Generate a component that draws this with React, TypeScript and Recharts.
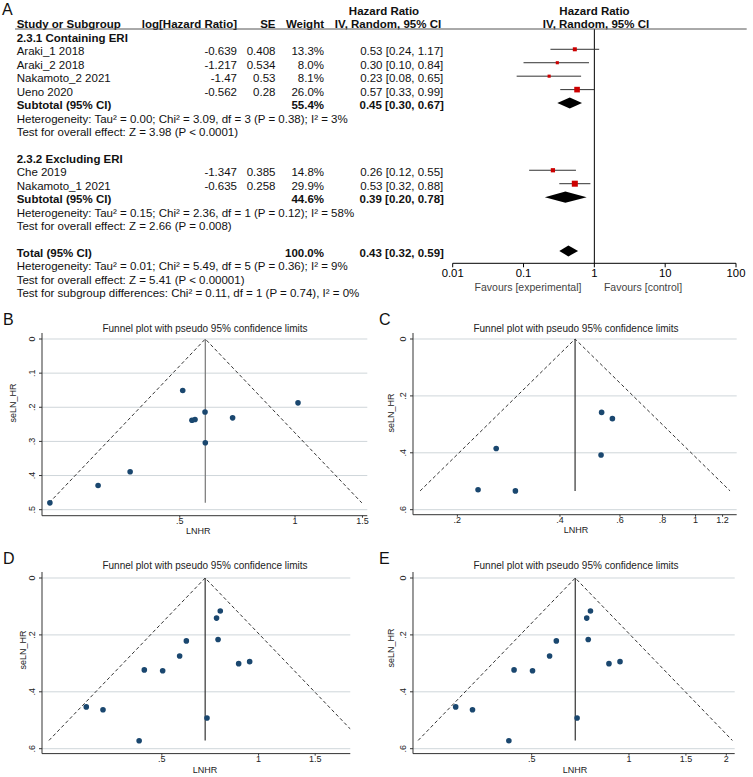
import React from 'react';
import { ScatterChart, Scatter, XAxis, YAxis, ReferenceLine, ReferenceArea } from 'recharts';

const FONT = '"Liberation Sans", Arial, Helvetica, sans-serif';

// ---------- Panel A: forest plot data ----------
const studyNames = ['Araki_1 2018', 'Araki_2 2018', 'Nakamoto_2 2021', 'Ueno 2020', 'Che 2019', 'Nakamoto_1 2021'];
const studyLogHR = [-0.639, -1.217, -1.47, -0.562, -1.347, -0.635];
const studySE = [0.408, 0.534, 0.53, 0.28, 0.385, 0.258];
const studyWeight = [13.3, 8.0, 8.1, 26.0, 14.8, 29.9];
const studyHR = [0.53, 0.30, 0.23, 0.57, 0.26, 0.53];
const studyLo = [0.24, 0.10, 0.08, 0.33, 0.12, 0.32];
const studyHi = [1.17, 0.84, 0.65, 0.99, 0.55, 0.88];
const studyRow = [1, 2, 3, 4, 10, 11];

const pooledNames = ['Subtotal (95% CI)', 'Subtotal (95% CI)', 'Total (95% CI)'];
const pooledWeight = [55.4, 44.6, 100.0];
const pooledHR = [0.45, 0.39, 0.43];
const pooledLo = [0.30, 0.20, 0.32];
const pooledHi = [0.67, 0.78, 0.59];
const pooledRow = [5, 12, 16];

const groupNames = ['2.3.1 Containing ERI', '2.3.2 Excluding ERI'];
const groupRow = [0, 9];

const noteTexts = [
  'Heterogeneity: Tau\u00b2 = 0.00; Chi\u00b2 = 3.09, df = 3 (P = 0.38); I\u00b2 = 3%',
  'Test for overall effect: Z = 3.98 (P < 0.0001)',
  'Heterogeneity: Tau\u00b2 = 0.15; Chi\u00b2 = 2.36, df = 1 (P = 0.12); I\u00b2 = 58%',
  'Test for overall effect: Z = 2.66 (P = 0.008)',
  'Heterogeneity: Tau\u00b2 = 0.01; Chi\u00b2 = 5.49, df = 5 (P = 0.36); I\u00b2 = 9%',
  'Test for overall effect: Z = 5.41 (P < 0.00001)',
  'Test for subgroup differences: Chi\u00b2 = 0.11, df = 1 (P = 0.74), I\u00b2 = 0%',
];
const noteRow = [6, 7, 13, 14, 17, 18, 19];

const forestTicks = [0.01, 0.1, 1, 10, 100];

// ---------- Funnel B ----------
const bHR = [0.509, 1.018, 0.582, 0.538, 0.548, 0.687, 0.583, 0.371, 0.306, 0.229];
const bSE = [0.151, 0.187, 0.214, 0.238, 0.236, 0.231, 0.304, 0.389, 0.429, 0.480];
const bFunnelHR = [0.228, 0.583, 1.494];
const bFunnelSE = [0.48, 0, 0.48];
const bXTicks = [0.5, 1, 1.5];
const bYTicks = [0, 0.1, 0.2, 0.3, 0.4, 0.5];

// ---------- Funnel C ----------
const cHR = [0.530, 0.570, 0.528, 0.260, 0.230, 0.296];
const cSE = [0.258, 0.28, 0.408, 0.385, 0.53, 0.534];
const cFunnelHR = [0.1555, 0.443, 1.262];
const cFunnelSE = [0.534, 0, 0.534];
const cXTicks = [0.2, 0.4, 0.6, 0.8, 1, 1.2];
const cYTicks = [0, 0.2, 0.4, 0.6];

// ---------- Funnels D and E ----------
const deHR = [0.760, 0.740, 0.748, 0.596, 0.568, 0.867, 0.938, 0.441, 0.503, 0.291, 0.328, 0.691, 0.425];
const deSE = [0.116, 0.141, 0.216, 0.221, 0.274, 0.301, 0.294, 0.323, 0.326, 0.453, 0.463, 0.492, 0.572];
const deFunnelHR = [0.2227, 0.682, 2.088];
const deFunnelSE = [0.571, 0, 0.571];
const dXTicks = [0.5, 1, 1.5];
const eXTicks = [0.5, 1, 1.5, 2];
const deYTicks = [0, 0.2, 0.4, 0.6];

// ---------- helpers ----------
const stataFmt = (v: number) => (v === 0 ? '0' : String(v).replace(/^0\./, '.'));
const Empty = () => <g />;

const ROW0 = 35.86;
const PITCH = 13.44;
const rowBase = (L: number) => ROW0 + PITCH * L + 6;

const RotTick = (props: any) => {
  const { x, y, payload } = props;
  const cx = x - 5;
  return (
    <text x={cx} y={y} transform={`rotate(-90 ${cx} ${y})`} textAnchor="middle" dominantBaseline="central"
      fontSize={9} fill="#222" fontFamily={FONT}>
      {stataFmt(payload.value)}
    </text>
  );
};

const Dot = (p: any) => <circle cx={p.cx} cy={p.cy} r={2.8} fill="#1a476f" />;

const Square = (p: any) => {
  const s = 1.1 * Math.sqrt(p.payload.w);
  return <rect x={p.cx - s / 2} y={p.cy - s / 2} width={s} height={s} fill="#cc0000" />;
};

function Forest() {
  const left = 440, top = 0, width = 313, height = 300;
  const ml = 452.7 - left;
  const mr = 753 - 736;
  const mt = 29;
  const xh = 30;
  const mb = height - 263.3 - xh;
  const pts = studyHR.map((hr, i) => ({ x: hr, y: studyRow[i], w: studyWeight[i] }));
  return (
    <div style={{ position: 'absolute', left, top, width, height }}>
      <ScatterChart width={width} height={height} margin={{ top: mt, right: mr, bottom: mb, left: ml }}>
        <XAxis type="number" dataKey="x" scale="log" domain={[0.01, 100]} ticks={forestTicks} allowDataOverflow
          interval={0} tickFormatter={(v: number) => String(v)} height={xh} tickSize={4} stroke="#000"
          tick={{ fontSize: 11.3, fill: '#000', fontFamily: FONT }} />
        <YAxis type="number" dataKey="y" hide domain={[-0.51, 16.923]} reversed allowDataOverflow />
        <ReferenceLine x={1} stroke="#000" strokeWidth={1} />
        {studyHR.map((hr, i) => (
          <Scatter key={'ci' + i} data={[{ x: studyLo[i], y: studyRow[i] }, { x: studyHi[i], y: studyRow[i] }]}
            line={{ stroke: '#333', strokeWidth: 1 }} shape={Empty} isAnimationActive={false} />
        ))}
        <Scatter data={pts} shape={Square} isAnimationActive={false} />
        {pooledHR.map((hr, i) => {
          const lo = pooledLo[i], hi = pooledHi[i];
          const f = (Math.log(hr) - Math.log(lo)) / (Math.log(hi) - Math.log(lo));
          return (
            <ReferenceArea key={'d' + i} x1={lo} x2={hi} y1={pooledRow[i] - 0.41} y2={pooledRow[i] + 0.41}
              ifOverflow="visible"
              shape={(p: any) => {
                const { x, y, width: w, height: h } = p;
                const px = x + w * f;
                return <polygon points={`${x},${y + h / 2} ${px},${y} ${x + w},${y + h / 2} ${px},${y + h}`} fill="#000" />;
              }} />
          );
        })}
      </ScatterChart>
    </div>
  );
}

type FunnelProps = {
  plot: { l: number; r: number; t: number; b: number };
  xDomain: [number, number];
  yDomain: [number, number];
  xTicks: number[];
  yTicks: number[];
  xs: number[];
  ses: number[];
  fx: number[];
  fse: number[];
  midStroke: string;
};

function Funnel({ plot, xDomain, yDomain, xTicks, yTicks, xs, ses, fx, fse, midStroke }: FunnelProps) {
  const yw = 30, xh = 24, ml = 4, mr = 16, mt = 4, mb = 4;
  const left = plot.l - yw - ml;
  const top = plot.t - mt;
  const width = plot.r - plot.l + yw + ml + mr;
  const height = plot.b - plot.t + xh + mt + mb;
  const pts = xs.map((x, i) => ({ x, y: ses[i] }));
  const funnel = fx.map((x, i) => ({ x, y: fse[i] }));
  const mid = [{ x: fx[1], y: fse[1] }, { x: fx[1], y: fse[0] }];
  return (
    <div style={{ position: 'absolute', left, top, width, height }}>
      <ScatterChart width={width} height={height} margin={{ top: mt, right: mr, bottom: mb, left: ml }}>
        <XAxis type="number" dataKey="x" scale="log" domain={xDomain} allowDataOverflow ticks={xTicks} interval={0}
          tickFormatter={stataFmt} height={xh} tickSize={2} tickMargin={0} stroke="#333"
          tick={{ fontSize: 9, fill: '#222', fontFamily: FONT }} />
        <YAxis type="number" dataKey="y" domain={yDomain} reversed allowDataOverflow ticks={yTicks} interval={0}
          width={yw} tickSize={3} stroke="#333" tick={<RotTick />} />
        {yTicks.map((v) => (
          <ReferenceLine key={'grid' + v} y={v} stroke="#cfd6da" strokeWidth={1} ifOverflow="visible" />
        ))}
        <Scatter data={funnel} line={{ stroke: '#333', strokeWidth: 1, strokeDasharray: '3.5 2.5' }} shape={Empty}
          isAnimationActive={false} />
        <Scatter data={mid} line={{ stroke: midStroke, strokeWidth: 1.2 }} shape={Empty} isAnimationActive={false} />
        <Scatter data={pts} shape={Dot} isAnimationActive={false} />
      </ScatterChart>
    </div>
  );
}

function Overlay() {
  const t = (x: number, y: number, s: string, opts: any = {}) => (
    <text x={x} y={y} fontSize={11.5} fill="#111" {...opts}>{s}</text>
  );
  const bold = { fontWeight: 700 };
  const ciText = (hr: number, lo: number, hi: number) => `${hr.toFixed(2)} [${lo.toFixed(2)}, ${hi.toFixed(2)}]`;
  const rot = (x: number, y: number, s: string) => (
    <text x={x} y={y} transform={`rotate(-90 ${x} ${y})`} textAnchor="middle" dominantBaseline="central" fontSize={9} fill="#222">{s}</text>
  );
  const title = 'Funnel plot with pseudo 95% confidence limits';
  return (
    <svg width={753} height={777} style={{ position: 'absolute', left: 0, top: 0, pointerEvents: 'none' }} fontFamily={FONT}>
      {/* Panel A */}
      <text x={2} y={15} fontSize={16} fill="#111">A</text>
      {t(384, 15.3, 'Hazard Ratio', { ...bold, textAnchor: 'middle' })}
      {t(594.5, 15.3, 'Hazard Ratio', { ...bold, textAnchor: 'middle' })}
      {t(16.7, 27.8, 'Study or Subgroup', bold)}
      {t(237, 27.8, 'log[Hazard Ratio]', { ...bold, textAnchor: 'end' })}
      {t(275.5, 27.8, 'SE', { ...bold, textAnchor: 'end' })}
      {t(324, 27.8, 'Weight', { ...bold, textAnchor: 'end' })}
      {t(388, 27.8, 'IV, Random, 95% CI', { ...bold, textAnchor: 'middle' })}
      {t(596, 27.8, 'IV, Random, 95% CI', { ...bold, textAnchor: 'middle' })}
      <line x1={15} x2={746.7} y1={29} y2={29} stroke="#555" strokeWidth={1} />
      {groupNames.map((g, i) => <React.Fragment key={'g' + i}>{t(16.7, rowBase(groupRow[i]), g, bold)}</React.Fragment>)}
      {studyNames.map((n, i) => (
        <React.Fragment key={'s' + i}>
          {t(16.7, rowBase(studyRow[i]), n)}
          {t(237, rowBase(studyRow[i]), String(studyLogHR[i]), { textAnchor: 'end' })}
          {t(275.5, rowBase(studyRow[i]), String(studySE[i]), { textAnchor: 'end' })}
          {t(324, rowBase(studyRow[i]), studyWeight[i].toFixed(1) + '%', { textAnchor: 'end' })}
          {t(401.7, rowBase(studyRow[i]), ciText(studyHR[i], studyLo[i], studyHi[i]), { textAnchor: 'middle' })}
        </React.Fragment>
      ))}
      {pooledNames.map((n, i) => (
        <React.Fragment key={'p' + i}>
          {t(16.7, rowBase(pooledRow[i]), n, bold)}
          {t(324, rowBase(pooledRow[i]), pooledWeight[i].toFixed(1) + '%', { ...bold, textAnchor: 'end' })}
          {t(401.7, rowBase(pooledRow[i]), ciText(pooledHR[i], pooledLo[i], pooledHi[i]), { ...bold, textAnchor: 'middle' })}
        </React.Fragment>
      ))}
      {noteTexts.map((n, i) => <React.Fragment key={'n' + i}>{t(16.7, rowBase(noteRow[i]), n)}</React.Fragment>)}
      <text x={528} y={290.5} fontSize={10.5} fill="#444" textAnchor="middle">Favours [experimental]</text>
      <text x={643} y={290.5} fontSize={10.5} fill="#444" textAnchor="middle">Favours [control]</text>

      {/* Panel letters */}
      <text x={3} y={325} fontSize={16} fill="#111">B</text>
      <text x={379} y={325} fontSize={16} fill="#111">C</text>
      <text x={3} y={563.5} fontSize={16} fill="#111">D</text>
      <text x={379} y={563.5} fontSize={16} fill="#111">E</text>

      {/* Funnel titles */}
      <text x={205} y={332} fontSize={10} fill="#222" textAnchor="middle">{title}</text>
      <text x={576} y={332} fontSize={10} fill="#222" textAnchor="middle">{title}</text>
      <text x={205} y={568.6} fontSize={10} fill="#222" textAnchor="middle">{title}</text>
      <text x={576} y={568.6} fontSize={10} fill="#222" textAnchor="middle">{title}</text>

      {/* Axis titles */}
      <text x={198.3} y={534.2} fontSize={9} fill="#222" textAnchor="middle">LNHR</text>
      <text x={576} y={533.2} fontSize={9} fill="#222" textAnchor="middle">LNHR</text>
      <text x={205} y={773.2} fontSize={9} fill="#222" textAnchor="middle">LNHR</text>
      <text x={575} y={773.2} fontSize={9} fill="#222" textAnchor="middle">LNHR</text>
      {rot(12.7, 403, 'seLN_HR')}
      {rot(391, 413, 'seLN_HR')}
      {rot(23.3, 650, 'seLN_HR')}
      {rot(391, 648, 'seLN_HR')}
    </svg>
  );
}

export default function App() {
  return (
    <div style={{ position: 'absolute', left: 0, top: 0, width: 753, height: 777, background: '#fff', fontFamily: FONT, overflow: 'hidden' }}>
      <Forest />
      <Funnel plot={{ l: 41.7, r: 367, t: 333.3, b: 516 }} xDomain={[0.2184, 1.544]} yDomain={[-0.0176, 0.5176]}
        xTicks={bXTicks} yTicks={bYTicks} xs={bHR} ses={bSE} fx={bFunnelHR} fse={bFunnelSE} midStroke="#777" />
      <Funnel plot={{ l: 413.3, r: 737, t: 333.3, b: 515 }} xDomain={[0.1482, 1.32]} yDomain={[-0.0211, 0.6176]}
        xTicks={cXTicks} yTicks={cYTicks} xs={cHR} ses={cSE} fx={cFunnelHR} fse={cFunnelSE} midStroke="#333" />
      <Funnel plot={{ l: 41.7, r: 350, t: 571.7, b: 753.3 }} xDomain={[0.2119, 1.929]} yDomain={[-0.0211, 0.6172]}
        xTicks={dXTicks} yTicks={deYTicks} xs={deHR} ses={deSE} fx={deFunnelHR} fse={deFunnelSE} midStroke="#333" />
      <Funnel plot={{ l: 413.3, r: 735, t: 571.7, b: 753.3 }} xDomain={[0.2147, 2.123]} yDomain={[-0.0211, 0.6172]}
        xTicks={eXTicks} yTicks={deYTicks} xs={deHR} ses={deSE} fx={deFunnelHR} fse={deFunnelSE} midStroke="#333" />
      <Overlay />
    </div>
  );
}
